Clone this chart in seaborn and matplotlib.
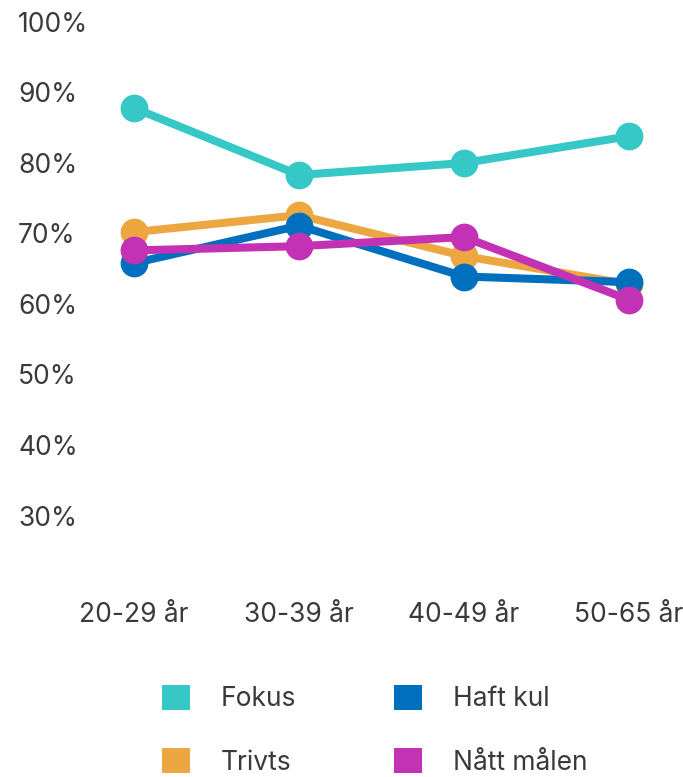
import matplotlib
matplotlib.use("Agg")
import matplotlib.pyplot as plt
from matplotlib.patches import Patch
import seaborn as sns
import pandas as pd

categories = ["20-29 år", "30-39 år", "40-49 år", "50-65 år"]
series_names = ["Fokus", "Trivts", "Haft kul", "Nått målen"]
fokus = [87.8, 78.3, 80.0, 83.8]
trivts = [70.2, 72.6, 66.8, 62.8]
haft_kul = [65.8, 71.1, 63.9, 63.1]
natt_malen = [67.6, 68.2, 69.5, 60.6]
colors = ["#36C8C6", "#EDA740", "#0070BE", "#C331B5"]
ytick_vals = [30, 40, 50, 60, 70, 80, 90, 100]
ytick_labels = [f"{v}%" for v in ytick_vals]

rows = []
for name, vals in zip(series_names, [fokus, trivts, haft_kul, natt_malen]):
    for c, v in zip(categories, vals):
        rows.append({"age": c, "value": v, "series": name})
df = pd.DataFrame(rows)

sns.set_style("white")
plt.rcParams["font.family"] = ["Inter", "DejaVu Sans"]
text_color = "#3a3a3a"
fs = 19

W, H = 683, 777
fig = plt.figure(figsize=(W / 100, H / 100), dpi=100)
ax_left, ax_right, ax_top, ax_bottom = 95, 683, 22, 586
ax = fig.add_axes([ax_left / W, 1 - ax_bottom / H, (ax_right - ax_left) / W, (ax_bottom - ax_top) / H])

sns.pointplot(data=df, x="age", y="value", hue="series", order=categories,
              hue_order=series_names, palette=colors, errorbar=None,
              markers="o", markersize=20, linewidth=5.8, ax=ax, legend=False)

for line in ax.lines:
    line.set_markeredgewidth(0)
    line.set_clip_on(False)
for coll in ax.collections:
    coll.set_clip_on(False)

ax.set_xlim(-0.236, 3.327)
ax.set_ylim(20, 100)
ax.set_yticks(ytick_vals)
ax.set_yticklabels(ytick_labels)
ax.set_xlabel("")
ax.set_ylabel("")
for s in ax.spines.values():
    s.set_visible(False)
ax.tick_params(axis="y", length=0, pad=55.4, labelsize=fs, labelcolor=text_color)
ax.tick_params(axis="x", length=0, pad=11.5, labelsize=fs, labelcolor=text_color)
for t in ax.get_yticklabels():
    t.set_horizontalalignment("left")
ax.grid(False)

handles = [Patch(facecolor=c, edgecolor="none", label=n) for c, n in zip(colors, series_names)]
leg = fig.legend(handles=handles, ncol=2, loc="upper left",
                 bbox_to_anchor=(162 / W, 1 - 685 / H), frameon=False,
                 handlelength=1.06, handleheight=1.06,
                 handletextpad=1.17, columnspacing=3.7, labelspacing=1.36,
                 borderpad=0, borderaxespad=0,
                 prop={"family": ["Inter", "DejaVu Sans"], "size": fs})
for t in leg.get_texts():
    t.set_color(text_color)

fig.savefig("out.png", dpi=100, facecolor="white")
